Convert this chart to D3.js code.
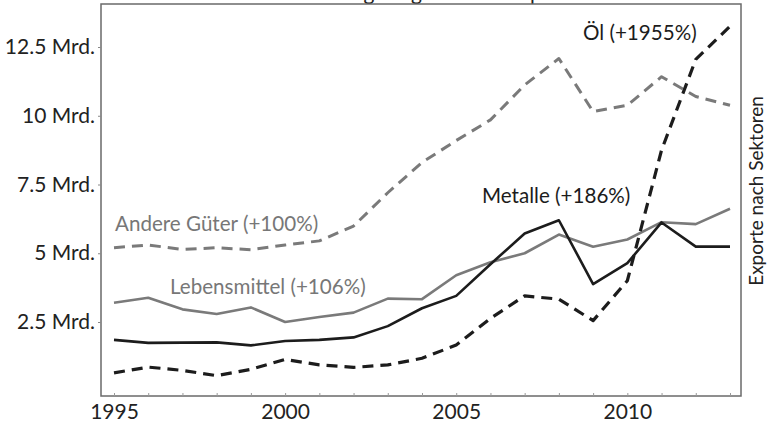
<!DOCTYPE html>
<html>
<head>
<meta charset="utf-8">
<script src="https://cdn.jsdelivr.net/npm/d3@7"></script>
<style>
  html, body { margin: 0; padding: 0; background: #fff; }
  svg { display: block; font-family: Lato, "Open Sans", sans-serif; }
</style>
</head>
<body>
<svg id="chart" width="771" height="429"></svg>
<script>
const years = [1995,1996,1997,1998,1999,2000,2001,2002,2003,2004,2005,2006,2007,2008,2009,2010,2011,2012,2013];
const oel = [0.65,0.86,0.74,0.55,0.78,1.14,0.94,0.85,0.94,1.18,1.66,2.63,3.45,3.33,2.55,4.0,8.75,12.05,13.25];
const metalle = [1.85,1.74,1.75,1.76,1.65,1.81,1.85,1.94,2.35,3.0,3.45,4.6,5.72,6.2,3.88,4.64,6.12,5.24,5.24];
const lebensmittel = [3.2,3.38,2.96,2.79,3.03,2.5,2.68,2.84,3.35,3.33,4.2,4.67,5.0,5.68,5.24,5.5,6.13,6.06,6.62];
const andere = [5.2,5.3,5.14,5.2,5.13,5.3,5.45,5.99,7.2,8.3,9.1,9.85,11.12,12.08,10.15,10.38,11.42,10.7,10.38];
const yTicks = [2.5,5,7.5,10,12.5];
const yTickLabels = ["2.5 Mrd.","5 Mrd.","7.5 Mrd.","10 Mrd.","12.5 Mrd."];
const xTicks = [1995,2000,2005,2010];
const seriesLabels = ["Öl (+1955%)","Metalle (+186%)","Lebensmittel (+106%)","Andere Güter (+100%)"];
const title = "Entwicklung ausgewählter Exporte";
const sideLabel = "Exporte nach Sektoren";

const svg = d3.select("#chart");
const x = d3.scaleLinear().domain([1995, 2013]).range([114, 730]);
const y = d3.scaleLinear().domain([0, 12.5]).range([390.75, 47]);
const frame = {l: 101, t: 4, r: 741, b: 396};

// title (cut off at the top edge, as in the source image)
svg.append("text").attr("x", 421).attr("y", 0).attr("text-anchor","middle")
  .attr("font-size", 21).attr("fill","#222").text(title);

// frame
svg.append("rect").attr("x", frame.l).attr("y", frame.t)
  .attr("width", frame.r - frame.l).attr("height", frame.b - frame.t)
  .attr("fill","none").attr("stroke","#6a6a6a").attr("stroke-width",1.5);

// y axis
const yAxis = d3.axisLeft(y).tickValues(yTicks).tickSize(3).tickPadding(3)
  .tickFormat((d,i) => yTickLabels[i]);
const gy = svg.append("g").attr("transform", `translate(${frame.l},0)`).call(yAxis);
gy.select(".domain").remove();
gy.selectAll("line").attr("stroke","#888");
gy.selectAll("text").attr("font-size",21).attr("fill","#222").attr("font-family","Lato, sans-serif");

// x axis minor ticks (every year, inward)
const xAxisTicks = d3.axisTop(x).tickValues(years).tickSize(3).tickFormat("");
const gxt = svg.append("g").attr("transform", `translate(0,${frame.b})`).call(xAxisTicks);
gxt.select(".domain").remove();
gxt.selectAll("line").attr("stroke","#999");

const xAxis = d3.axisBottom(x).tickValues(xTicks).tickSize(0).tickPadding(8).tickFormat(d3.format("d"));
const gx = svg.append("g").attr("transform", `translate(0,${frame.b})`).call(xAxis);
gx.select(".domain").remove();
gx.selectAll("text").attr("font-size",21).attr("fill","#222").attr("font-family","Lato, sans-serif");

const line = d3.line().x((d,i) => x(years[i])).y(d => y(d));

const series = [
  {data: andere, color: "#7a7a7a", width: 3, dash: "11,7"},
  {data: lebensmittel, color: "#7a7a7a", width: 2.6, dash: null},
  {data: metalle, color: "#1c1c1c", width: 2.6, dash: null},
  {data: oel, color: "#1c1c1c", width: 3.2, dash: "11,7"}
];
series.forEach(s => {
  const p = svg.append("path").datum(s.data).attr("d", line)
    .attr("fill","none").attr("stroke", s.color).attr("stroke-width", s.width)
    .attr("stroke-linejoin","round");
  if (s.dash) p.attr("stroke-dasharray", s.dash);
});

// series labels
const labs = [
  {t: seriesLabels[0], x: 583, y: 40, c: "#1c1c1c"},
  {t: seriesLabels[1], x: 482, y: 203, c: "#1c1c1c"},
  {t: seriesLabels[2], x: 170, y: 294, c: "#777"},
  {t: seriesLabels[3], x: 115, y: 231, c: "#777"}
];
labs.forEach(l => {
  svg.append("text").attr("x", l.x).attr("y", l.y).attr("font-size", 20.6)
    .attr("fill", l.c).text(l.t);
});

// right side label
svg.append("text").attr("transform", "translate(763,191) rotate(-90)")
  .attr("text-anchor","middle").attr("font-size",19).attr("fill","#222").text(sideLabel);
</script>
</body>
</html>
